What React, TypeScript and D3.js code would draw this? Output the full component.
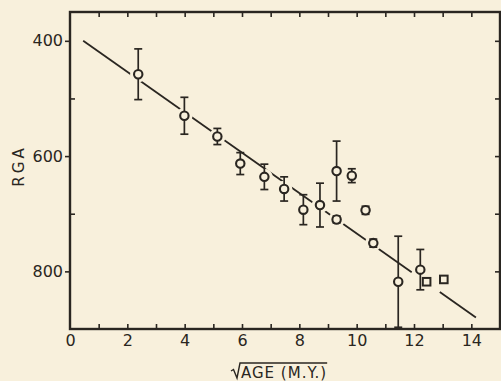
import { useEffect, useRef } from "react";
import * as d3 from "d3";

// circles with error bars
const sqrtAge = [2.38, 3.99, 5.14, 5.94, 6.78, 7.47, 8.14, 8.72, 9.3, 9.83, 9.3, 10.31, 10.58, 11.45, 12.22];
const rga = [458, 530, 566, 613, 636, 657, 693, 685, 626, 634, 710, 694, 751, 818, 797];
const rgaErr = [44, 32, 14, 19, 22, 21, 26, 38, 52, 12, 6, 7, 7, 79, 35];

// open squares, no error bars
const squareAge = [12.44, 13.04];
const squareRga = [818, 814];

// fitted line (ends) and the pieces it is drawn in
const fitAge = [0.46, 14.16];
const fitRga = [400, 880];
const fitPieces = [[0.46, 11.92], [12.9, 14.16]];

const xTickLabels = [0, 2, 4, 6, 8, 10, 12, 14];
const yTickLabels = [400, 600, 800];
const yMinorTicks = [500, 700];
const yRightTicks = [400, 500, 600, 700, 800];

const paper = "#f8f0dc";
const ink = "#2a2621";
const font = "'DejaVu Sans', sans-serif";

function App() {
    const ref = useRef<HTMLDivElement>(null);

    useEffect(() => {
        const width = 501, height = 381;

        const svg = d3.select(ref.current)
            .append("svg")
            .attr("width", width)
            .attr("height", height)
            .style("display", "block");

        svg.append("rect").attr("width", width).attr("height", height).attr("fill", paper);

        const x = d3.scaleLinear().domain([0, 15]).range([70, 500]);
        const y = d3.scaleLinear().domain([350, 900]).range([12, 329]);
        const fit = d3.scaleLinear().domain(fitAge).range(fitRga);

        // frame
        svg.append("rect")
            .attr("x", x(0)).attr("y", y(350))
            .attr("width", x(15) - x(0)).attr("height", y(900) - y(350))
            .attr("fill", "none").attr("stroke", ink).attr("stroke-width", 2.4);

        const styleAxis = (g: any) => {
            g.select(".domain").remove();
            g.selectAll("line").attr("stroke", ink).attr("stroke-width", 1.6);
            g.selectAll("text").attr("fill", ink).style("font-family", font).style("font-size", "16px");
        };

        // inward minor ticks on bottom and top
        svg.append("g").attr("transform", `translate(0,${y(900)})`)
            .call(d3.axisBottom(x).tickValues(d3.range(1, 15)).tickSize(-5).tickFormat(() => ""))
            .call(styleAxis);
        svg.append("g").attr("transform", `translate(0,${y(350)})`)
            .call(d3.axisTop(x).tickValues(d3.range(1, 15)).tickSize(-5).tickFormat(() => ""))
            .call(styleAxis);

        // bottom labels
        svg.append("g").attr("transform", `translate(0,${y(900)})`)
            .call(d3.axisBottom(x).tickValues(xTickLabels).tickSize(0).tickPadding(6).tickFormat(d3.format("d")))
            .call(styleAxis);

        // left: labelled ticks outward, minor inward
        svg.append("g").attr("transform", `translate(${x(0)},0)`)
            .call(d3.axisLeft(y).tickValues(yTickLabels).tickSize(5).tickPadding(2).tickFormat(d3.format("d")))
            .call(styleAxis);
        svg.append("g").attr("transform", `translate(${x(0)},0)`)
            .call(d3.axisLeft(y).tickValues(yMinorTicks).tickSize(-5).tickFormat(() => ""))
            .call(styleAxis);

        // right: inward ticks
        svg.append("g").attr("transform", `translate(${x(15)},0)`)
            .call(d3.axisRight(y).tickValues(yRightTicks).tickSize(-5).tickFormat(() => ""))
            .call(styleAxis);

        // fitted line
        svg.append("g").selectAll("line")
            .data(fitPieces)
            .enter().append("line")
            .attr("x1", d => x(d[0])).attr("y1", d => y(fit(d[0])))
            .attr("x2", d => x(d[1])).attr("y2", d => y(fit(d[1])))
            .attr("stroke", ink).attr("stroke-width", 1.8);

        const pts = sqrtAge.map((a, i) => ({a, v: rga[i], e: rgaErr[i]}));
        const sqs = squareAge.map((a, i) => ({a, v: squareRga[i]}));

        // paper halos so the line breaks around the markers
        svg.append("g").selectAll("circle")
            .data(pts).enter().append("circle")
            .attr("cx", d => x(d.a)).attr("cy", d => y(d.v)).attr("r", 4.2)
            .attr("fill", paper).attr("stroke", paper).attr("stroke-width", 8);
        svg.append("g").selectAll("rect")
            .data(sqs).enter().append("rect")
            .attr("x", d => x(d.a) - 4).attr("y", d => y(d.v) - 4)
            .attr("width", 8).attr("height", 8)
            .attr("fill", paper).attr("stroke", paper).attr("stroke-width", 7);

        // error bars
        const bars = svg.append("g").attr("stroke", ink).attr("stroke-width", 1.7);
        bars.selectAll(".stem").data(pts).enter().append("line")
            .attr("x1", d => x(d.a)).attr("x2", d => x(d.a))
            .attr("y1", d => y(d.v - d.e)).attr("y2", d => y(d.v + d.e));
        bars.selectAll(".capTop").data(pts).enter().append("line")
            .attr("x1", d => x(d.a) - 4).attr("x2", d => x(d.a) + 4)
            .attr("y1", d => y(d.v - d.e)).attr("y2", d => y(d.v - d.e));
        bars.selectAll(".capBottom").data(pts).enter().append("line")
            .attr("x1", d => x(d.a) - 4).attr("x2", d => x(d.a) + 4)
            .attr("y1", d => y(d.v + d.e)).attr("y2", d => y(d.v + d.e));

        // markers
        svg.append("g").selectAll("circle")
            .data(pts).enter().append("circle")
            .attr("cx", d => x(d.a)).attr("cy", d => y(d.v)).attr("r", 4.2)
            .attr("fill", paper).attr("stroke", ink).attr("stroke-width", 2.1);
        svg.append("g").selectAll("rect")
            .data(sqs).enter().append("rect")
            .attr("x", d => x(d.a) - 3.8).attr("y", d => y(d.v) - 3.8)
            .attr("width", 7.6).attr("height", 7.6)
            .attr("fill", paper).attr("stroke", ink).attr("stroke-width", 2);

        // y title
        svg.append("text")
            .attr("transform", "translate(24,166) rotate(-90)")
            .attr("text-anchor", "middle")
            .attr("fill", ink)
            .style("font-family", font).style("font-size", "15px").style("letter-spacing", "3px")
            .text("RGA");

        // x title with radical sign
        const label = svg.append("text")
            .attr("x", 241).attr("y", 378)
            .attr("fill", ink)
            .style("font-family", font).style("font-size", "15px").style("letter-spacing", "1px")
            .text("AGE (M.Y.)");
        const len = (label.node() as SVGTextElement).getComputedTextLength();
        svg.append("path")
            .attr("d", `M231,371 L233.5,369.5 L237,378 L240,363 H${241 + len}`)
            .attr("fill", "none").attr("stroke", ink).attr("stroke-width", 1.4);

        return () => {
            ref.current?.querySelector("svg")?.remove();
        };
    }, []);

    return <div ref={ref} style={{position: "absolute", left: 0, top: 0}}></div>;
}

export default App;
